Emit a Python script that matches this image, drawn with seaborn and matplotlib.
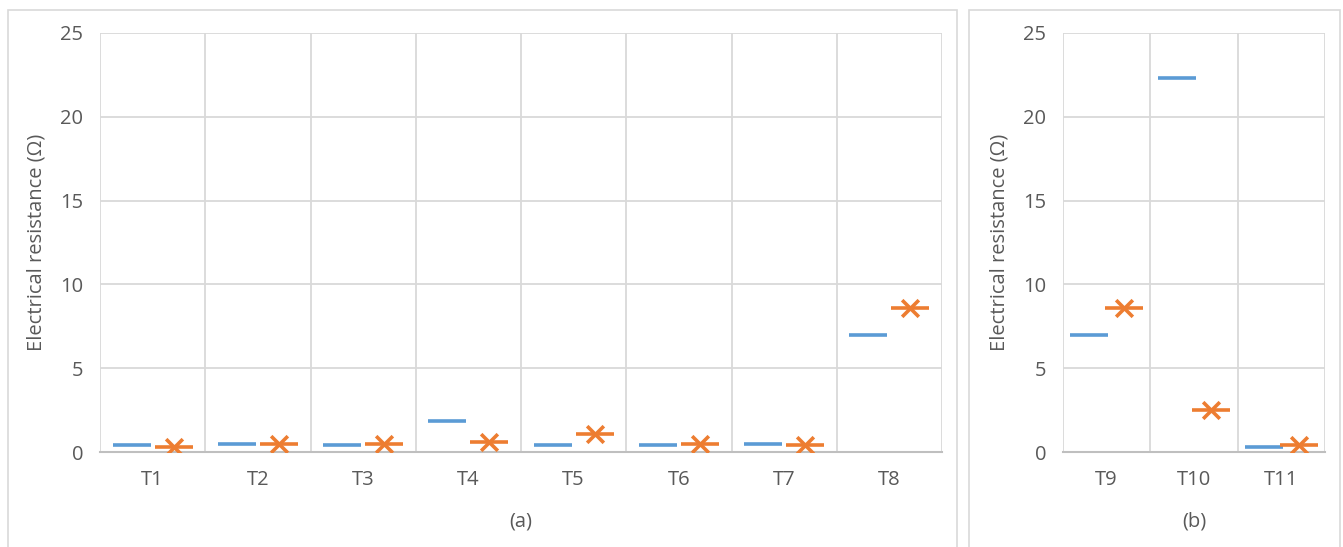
import matplotlib
matplotlib.use("Agg")
import matplotlib.pyplot as plt
from matplotlib.patches import Rectangle
from matplotlib.ticker import FixedLocator
import seaborn as sns
import pandas as pd

# panel (a)
tests_a = ['T1', 'T2', 'T3', 'T4', 'T5', 'T6', 'T7', 'T8']
blue_a = [0.42, 0.5, 0.42, 1.85, 0.42, 0.42, 0.5, 7.0]
orange_a = [0.3, 0.45, 0.5, 0.6, 1.1, 0.5, 0.4, 8.6]

# panel (b)
tests_b = ['T9', 'T10', 'T11']
blue_b = [7.0, 22.3, 0.3]
orange_b = [8.6, 2.5, 0.4]

BLUE = '#5B9BD5'
ORANGE = '#ED7D31'
GRID = '#D9D9D9'
TXT = '#595959'
FS = 14.5

sns.set_style('white')
plt.rcParams['font.family'] = ['Open Sans', 'DejaVu Sans']


def make_df(tests, blue, orange):
    return pd.DataFrame({
        'test': tests * 2,
        'value': blue + orange,
        'series': ['s1'] * len(tests) + ['s2'] * len(tests),
    })


def draw(ax, tests, blue, orange):
    df = make_df(tests, blue, orange)
    sns.stripplot(data=df, x='test', y='value', hue='series', order=tests,
                  palette=[BLUE, ORANGE], dodge=True, jitter=False,
                  marker='_', size=27, linewidth=2.6, legend=False, ax=ax, zorder=3)
    sns.stripplot(data=df, x='test', y='value', hue='series', order=tests,
                  palette=[(0, 0, 0, 0), ORANGE], dodge=True, jitter=False,
                  marker='x', size=12, linewidth=2.6, legend=False, ax=ax, zorder=4)
    n = len(tests)
    ax.set_xlim(-0.5, n - 0.5)
    ax.set_ylim(0, 25)
    ax.set_yticks([0, 5, 10, 15, 20, 25])
    ax.xaxis.set_minor_locator(FixedLocator([i - 0.5 for i in range(n + 1)]))
    ax.grid(axis='y', which='major', color=GRID, linewidth=1.3)
    ax.grid(axis='x', which='minor', color=GRID, linewidth=1.3)
    ax.grid(axis='x', which='major', visible=False)
    ax.set_axisbelow(True)
    for s in ['top', 'right', 'left']:
        ax.spines[s].set_visible(False)
    ax.spines['bottom'].set_color('#BFBFBF')
    ax.spines['bottom'].set_linewidth(1.5)
    ax.tick_params(which='both', length=0, colors=TXT, labelsize=FS)
    ax.tick_params(axis='x', pad=13)
    ax.tick_params(axis='y', pad=12)
    ax.set_xlabel('')
    ax.set_ylabel('Electrical resistance (Ω)', fontsize=FS, color=TXT, labelpad=10)


W, H = 1343, 547
fig = plt.figure(figsize=(W / 100, H / 100), dpi=100)

ax_a = fig.add_axes([100 / W, 1 - 452 / H, (942 - 100) / W, (452 - 33) / H])
ax_b = fig.add_axes([1063 / W, 1 - 452 / H, (1325 - 1063) / W, (452 - 33) / H])

draw(ax_a, tests_a, blue_a, orange_a)
draw(ax_b, tests_b, blue_b, orange_b)

# panel frames
fig.add_artist(Rectangle((8 / W, -0.01), (957 - 8) / W, 1 - 10 / H + 0.01,
                         transform=fig.transFigure, fill=False,
                         edgecolor=GRID, linewidth=1.2))
fig.add_artist(Rectangle((969 / W, -0.01), (1340 - 969) / W, 1 - 10 / H + 0.01,
                         transform=fig.transFigure, fill=False,
                         edgecolor=GRID, linewidth=1.2))

fig.text(521 / W, 1 - 522 / H, '(a)', ha='center', va='center', fontsize=FS, color=TXT)
fig.text(1194 / W, 1 - 522 / H, '(b)', ha='center', va='center', fontsize=FS, color=TXT)

fig.savefig('out.png', dpi=100)
